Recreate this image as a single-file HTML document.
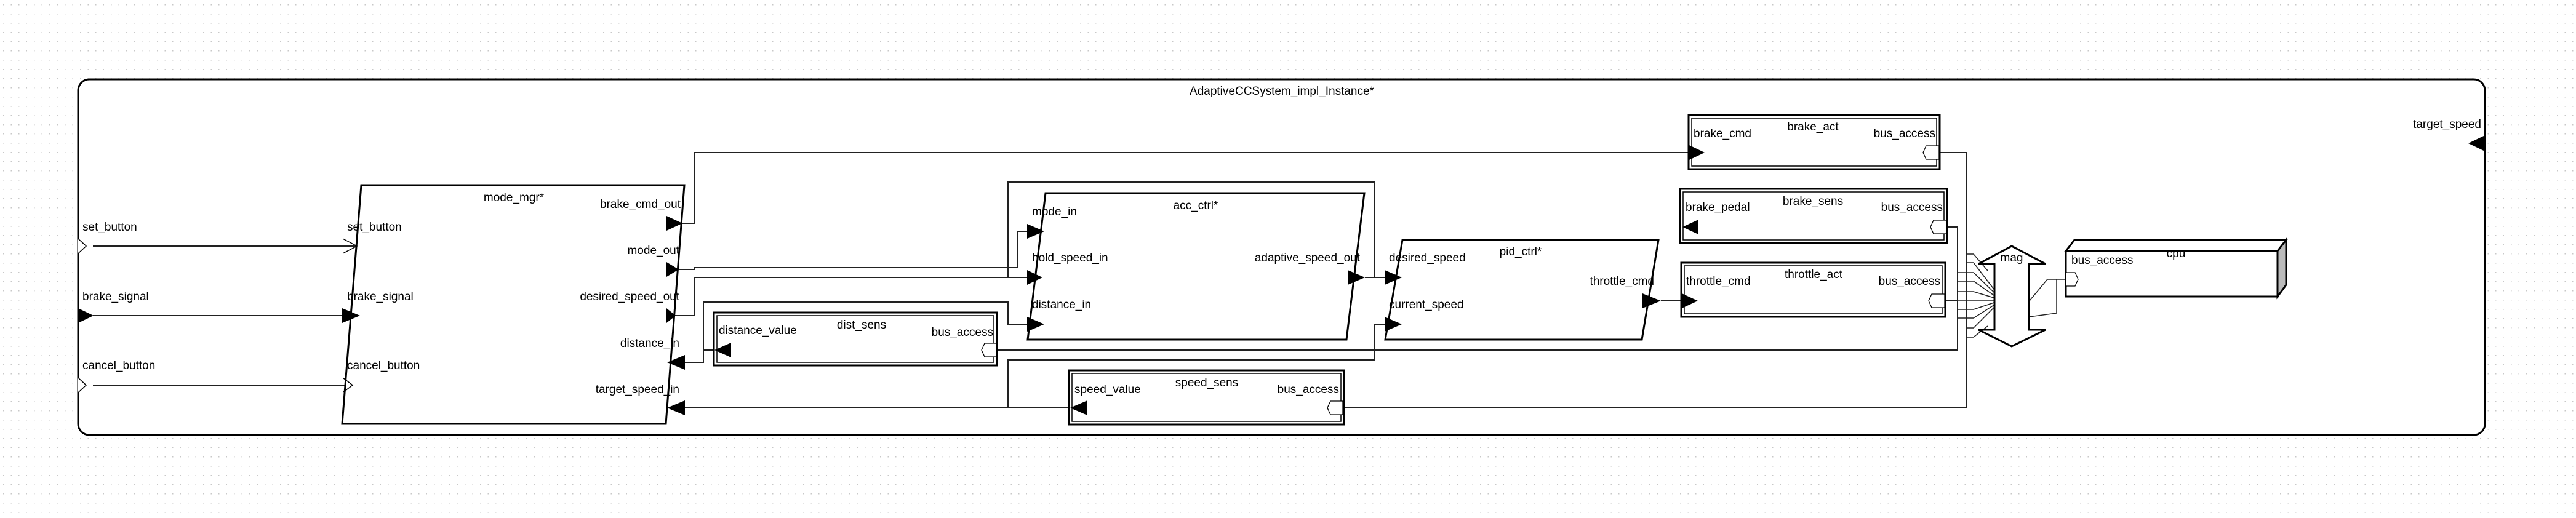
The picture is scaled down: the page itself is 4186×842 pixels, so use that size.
<!DOCTYPE html>
<html><head><meta charset="utf-8"><style>html,body{margin:0;padding:0;background:#fff}svg{display:block}text{font-family:"Liberation Sans",Arial,sans-serif;font-size:19px;fill:#000}</style></head><body>
<svg width="4186" height="842" xmlns="http://www.w3.org/2000/svg">
<defs><pattern id="g" width="12.5" height="15" patternUnits="userSpaceOnUse"><rect x="5" y="7" width="1.5" height="1.5" fill="#c8c8c8"/></pattern></defs>
<rect width="4186" height="842" fill="url(#g)"/>
<rect x="127" y="129" width="3911" height="578" rx="18" fill="#fff" stroke="#000" stroke-width="3"/>
<text x="2083" y="154" text-anchor="middle">AdaptiveCCSystem_impl_Instance*</text>

<g fill="none" stroke="#222" stroke-width="2">
<polyline points="151,400 579,400"/><polyline points="151,513 579,513"/><polyline points="151,626 572,626"/>
<polyline points="1107,363 1128,363 1128,248 2744,248"/>
<polyline points="1101,438 1128,438 1128,435 1653,435 1653,376 1669,376"/>
<polyline points="1096,513 1128,513 1128,451 1669,451"/>
<polyline points="1638,451 1638,296 2234,296 2234,451"/>
<polyline points="2218,451 2251,451"/>
<polyline points="1161,569 1143,569 1143,589 1113,589"/>
<polyline points="1143,569 1143,491 1638,491 1638,527 1669,527"/>
<polyline points="1113,663 1739,663"/>
<polyline points="1638,663 1638,585 2234,585 2234,527 2251,527"/>
<polyline points="2699,489 2732,489"/>
<polyline points="3152,248 3195,248 3195,663 2184,663"/>
<polyline points="3164,369 3181,369 3181,569 1621,569"/>
<polyline points="3161,489 3181,489"/>
</g>
<g fill="none" stroke="#222" stroke-width="1.5">
<polyline points="3195,413 3207,413 3230,440"/><polyline points="3195,427 3207,427 3240,470"/>
<polyline points="3181,443 3207,443 3240,475"/><polyline points="3181,457 3207,457 3240,480"/>
<polyline points="3181,474 3207,474 3240,484"/><polyline points="3181,488 3207,488 3240,488"/>
<polyline points="3181,503 3207,503 3240,492"/><polyline points="3181,517 3207,517 3240,496"/>
<polyline points="3195,533 3207,533 3240,500"/><polyline points="3195,548 3207,548 3230,530"/>
<polyline points="3297,490 3327,454 3357,454"/><polyline points="3297,515 3342,509 3342,454"/>
</g>

<polyline points="127,388 140,400 127,412" fill="#fff" stroke="#000" stroke-width="1.5"/>
<polygon points="127,501 152,513 127,525" fill="#000"/>
<polyline points="127,614 140,626 127,638" fill="#fff" stroke="#000" stroke-width="1.5"/>
<polygon points="4011,233 4038,220 4038,246" fill="#000"/>
<text x="134" y="375">set_button</text><text x="134" y="488">brake_signal</text><text x="134" y="600">cancel_button</text>
<text x="4032" y="208" text-anchor="end">target_speed</text>

<polygon points="587,301 1112,301 1082,689 556,689" fill="#fff" stroke="#000" stroke-width="3"/>
<text x="835" y="327" text-anchor="middle">mode_mgr*</text>
<polyline points="557,388 580,400 557,412" fill="none" stroke="#000" stroke-width="1.5"/>
<polygon points="556,501 585,513 556,525" fill="#000"/>
<polyline points="557,614 573,626 557,638" fill="none" stroke="#000" stroke-width="1.5"/>
<text x="564" y="375">set_button</text><text x="564" y="488">brake_signal</text><text x="564" y="600">cancel_button</text>
<polygon points="1083,351 1109,363 1083,375" fill="#000"/>
<polygon points="1083,426 1103,438 1083,450" fill="#000"/>
<polygon points="1083,501 1098,513 1083,525" fill="#000"/>
<polygon points="1113,577 1084,589 1113,601" fill="#000"/>
<polygon points="1113,651 1084,663 1113,675" fill="#000"/>
<text x="1106" y="338" text-anchor="end">brake_cmd_out</text>
<text x="1104" y="413" text-anchor="end">mode_out</text>
<text x="1104" y="488" text-anchor="end">desired_speed_out</text>
<text x="1104" y="564" text-anchor="end">distance_in</text>
<text x="1104" y="639" text-anchor="end">target_speed_in</text>

<rect x="1160" y="508" width="460" height="86" fill="#fff" stroke="#000" stroke-width="3"/>
<rect x="1165" y="513" width="450" height="76" fill="none" stroke="#000" stroke-width="1.5"/>
<polygon points="1188,557 1161,569 1188,581" fill="#000"/>
<polygon points="1619,558 1600,558 1595,569 1600,580 1619,580" fill="#fff" stroke="#000" stroke-width="1.3"/>
<text x="1168" y="543">distance_value</text><text x="1400" y="534" text-anchor="middle">dist_sens</text><text x="1614" y="546" text-anchor="end">bus_access</text>

<polygon points="1699,314 2217,314 2188,552 1670,552" fill="#fff" stroke="#000" stroke-width="3"/>
<text x="1943" y="340" text-anchor="middle">acc_ctrl*</text>
<polygon points="1669,364 1697,376 1669,388" fill="#000"/>
<polygon points="1669,439 1694,451 1669,463" fill="#000"/>
<polygon points="1669,515 1697,527 1669,539" fill="#000"/>
<polygon points="2190,439 2218,451 2190,463" fill="#000"/>
<text x="1677" y="350">mode_in</text><text x="1677" y="425">hold_speed_in</text><text x="1677" y="501">distance_in</text>
<text x="2210" y="425" text-anchor="end">adaptive_speed_out</text>

<polygon points="2279,390 2695,390 2668,552 2251,552" fill="#fff" stroke="#000" stroke-width="3"/>
<text x="2471" y="415" text-anchor="middle">pid_ctrl*</text>
<polygon points="2250,439 2278,451 2250,463" fill="#000"/>
<polygon points="2250,515 2278,527 2250,539" fill="#000"/>
<polygon points="2669,477 2699,489 2669,501" fill="#000"/>
<text x="2257" y="425">desired_speed</text><text x="2257" y="501">current_speed</text>
<text x="2688" y="463" text-anchor="end">throttle_cmd</text>

<rect x="1737" y="602" width="447" height="88" fill="#fff" stroke="#000" stroke-width="3"/>
<rect x="1742" y="607" width="437" height="78" fill="none" stroke="#000" stroke-width="1.5"/>
<polygon points="1767,651 1739,663 1767,675" fill="#000"/>
<polygon points="2182,652 2162,652 2157,663 2162,674 2182,674" fill="#fff" stroke="#000" stroke-width="1.3"/>
<text x="1746" y="639">speed_value</text><text x="1961" y="628" text-anchor="middle">speed_sens</text><text x="2176" y="639" text-anchor="end">bus_access</text>

<rect x="2744" y="187" width="408" height="88" fill="#fff" stroke="#000" stroke-width="3"/>
<rect x="2749" y="192" width="398" height="78" fill="none" stroke="#000" stroke-width="1.5"/>
<polygon points="2745,236 2770,248 2745,260" fill="#000"/>
<polygon points="3151,237 3130,237 3125,248 3130,259 3151,259" fill="#fff" stroke="#000" stroke-width="1.3"/>
<text x="2752" y="223">brake_cmd</text><text x="2946" y="212" text-anchor="middle">brake_act</text><text x="3145" y="223" text-anchor="end">bus_access</text>

<rect x="2730" y="307" width="434" height="88" fill="#fff" stroke="#000" stroke-width="3"/>
<rect x="2735" y="312" width="424" height="78" fill="none" stroke="#000" stroke-width="1.5"/>
<polygon points="2760,357 2734,369 2760,381" fill="#000"/>
<polygon points="3163,358 3142,358 3137,369 3142,380 3163,380" fill="#fff" stroke="#000" stroke-width="1.3"/>
<text x="2739" y="343">brake_pedal</text><text x="2946" y="333" text-anchor="middle">brake_sens</text><text x="3157" y="343" text-anchor="end">bus_access</text>

<rect x="2732" y="427" width="429" height="88" fill="#fff" stroke="#000" stroke-width="3"/>
<rect x="2737" y="432" width="419" height="78" fill="none" stroke="#000" stroke-width="1.5"/>
<polygon points="2733,477 2759,489 2733,501" fill="#000"/>
<polygon points="3160,478 3139,478 3134,489 3139,500 3160,500" fill="#fff" stroke="#000" stroke-width="1.3"/>
<text x="2740" y="463">throttle_cmd</text><text x="2947" y="452" text-anchor="middle">throttle_act</text><text x="3153" y="463" text-anchor="end">bus_access</text>

<polygon points="3269,400 3324,429 3297,429 3297,536 3324,536 3269,563 3215,536 3241,536 3241,429 3215,429" fill="#fff" stroke="#000" stroke-width="3"/>
<text x="3269" y="425" text-anchor="middle">mag</text>

<polygon points="3357,408 3371,390 3715,390 3701,408" fill="#fff" stroke="#000" stroke-width="3"/>
<polygon points="3701,408 3715,390 3715,463 3701,482" fill="#bbb" stroke="#000" stroke-width="3"/>
<rect x="3357" y="408" width="344" height="74" fill="#fff" stroke="#000" stroke-width="3"/>
<polygon points="3357,443 3372,443 3377,454 3372,465 3357,465" fill="#fff" stroke="#000" stroke-width="1.3"/>
<text x="3536" y="418" text-anchor="middle">cpu</text><text x="3366" y="429">bus_access</text>
</svg>
</body></html>
